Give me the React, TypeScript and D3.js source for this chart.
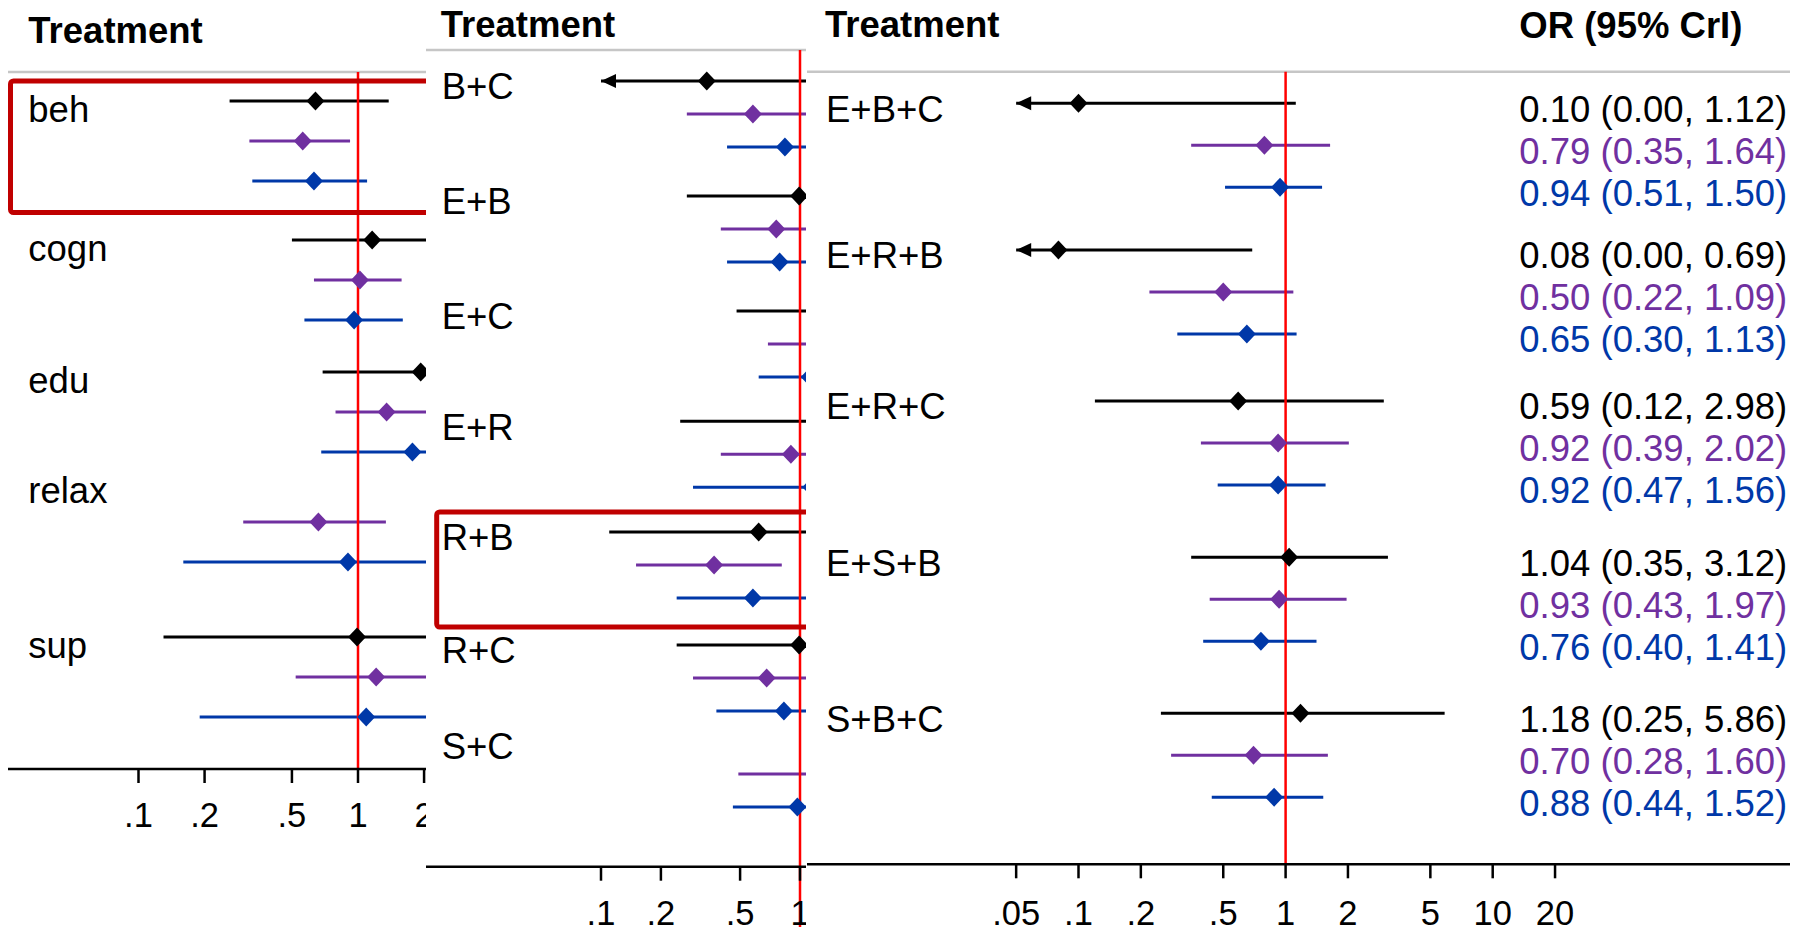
import React from 'react';
import { scaleLog, scaleLinear } from 'd3';

// [estimate, lower, upper] per treatment; null = row not shown
type Ci = [number, number, number] | null;

const seriesColors = ['#000000', '#7030A0', '#0038A8'];

// left panel: single components
const p1Labels = ['beh', 'cogn', 'edu', 'relax', 'sup'];
const p1Black: Ci[] = [[0.64, 0.26, 1.38], [1.16, 0.5, 3.2], [1.93, 0.69, 5.4], null, [0.99, 0.13, 3.4]];
const p1Purple: Ci[] = [[0.56, 0.32, 0.92], [1.02, 0.63, 1.58], [1.35, 0.79, 2.6], [0.66, 0.3, 1.34], [1.21, 0.52, 2.5]];
const p1Blue: Ci[] = [[0.63, 0.33, 1.1], [0.96, 0.57, 1.6], [1.77, 0.68, 4.2], [0.9, 0.16, 2.9], [1.09, 0.19, 3.6]];
const p1Ticks = [0.1, 0.2, 0.5, 1, 2];
const p1TickLabels = ['.1', '.2', '.5', '1', '2'];

// middle panel: pairs
const p2Labels = ['B+C', 'E+B', 'E+C', 'E+R', 'R+B', 'R+C', 'S+C'];
const p2Black: Ci[] = [[0.34, 0, 1.6], [0.99, 0.27, 3], [1.3, 0.48, 3.5], [1.4, 0.25, 6], [0.62, 0.11, 2.5], [0.99, 0.24, 3.2], null];
const p2Purple: Ci[] = [[0.58, 0.27, 1.3], [0.76, 0.4, 1.6], [1.25, 0.69, 2.2], [0.9, 0.4, 1.9], [0.37, 0.15, 0.81], [0.68, 0.29, 1.6], [1.4, 0.49, 3.5]];
const p2Blue: Ci[] = [[0.84, 0.43, 1.5], [0.79, 0.43, 1.4], [1.12, 0.62, 2], [1.14, 0.29, 3.5], [0.58, 0.24, 1.4], [0.83, 0.38, 1.8], [0.97, 0.46, 2.1]];
const p2Ticks = [0.1, 0.2, 0.5, 1];
const p2TickLabels = ['.1', '.2', '.5', '1'];

// right panel: triples, with the printed OR (95% CrI)
const p3Labels = ['E+B+C', 'E+R+B', 'E+R+C', 'E+S+B', 'S+B+C'];
const p3Black: Ci[] = [[0.1, 0, 1.12], [0.08, 0, 0.69], [0.59, 0.12, 2.98], [1.04, 0.35, 3.12], [1.18, 0.25, 5.86]];
const p3Purple: Ci[] = [[0.79, 0.35, 1.64], [0.5, 0.22, 1.09], [0.92, 0.39, 2.02], [0.93, 0.43, 1.97], [0.7, 0.28, 1.6]];
const p3Blue: Ci[] = [[0.94, 0.51, 1.5], [0.65, 0.3, 1.13], [0.92, 0.47, 1.56], [0.76, 0.4, 1.41], [0.88, 0.44, 1.52]];
const p3Ticks = [0.05, 0.1, 0.2, 0.5, 1, 2, 5, 10, 20];
const p3TickLabels = ['.05', '.1', '.2', '.5', '1', '2', '5', '10', '20'];

// row position of each treatment's first line (row units, plots are uneven)
const p1GroupRows = [0, 3.475, 6.775, 9.525, 13.4];
const p2GroupRows = [0, 3.485, 6.97, 10.31, 13.67, 17.09, 20];
const p3GroupRows = [0, 3.49, 7.09, 10.81, 14.52];

const font = '"Liberation Sans", Arial, Helvetica, sans-serif';

interface PanelProps {
  id: string;
  clipX: [number, number];
  x: any;
  y: any;
  clipMin: number;
  labels: string[];
  groupRows: number[];
  series: Ci[][];
  ticks: number[];
  tickLabels: string[];
  headerX: number;
  headerY: number;
  lineY: number;
  lineX: [number, number];
  axisY: number;
  refBottom: number;
  tickLabelY: number;
  labelX: number;
  labelDy: number;
  box?: { x: number; y0: number; y1: number };
  numbersX?: number;
}

function Panel(p: PanelProps) {
  const [cx0, cx1] = p.clipX;
  const x1 = p.x(1);
  const diamond = (cx: number, cy: number) =>
    `M${cx - 9},${cy}L${cx},${cy - 9.5}L${cx + 9},${cy}L${cx},${cy + 9.5}Z`;

  const rows: { key: string; ci: [number, number, number]; cy: number; color: string }[] = [];
  p.series.forEach((s, si) => {
    s.forEach((ci, gi) => {
      if (!ci) return;
      rows.push({ key: `${si}-${gi}`, ci, cy: p.y(p.groupRows[gi] + si), color: seriesColors[si] });
    });
  });

  return (
    <g clipPath={`url(#${p.id})`}>
      <defs>
        <clipPath id={p.id}>
          <rect x={cx0} y={0} width={cx1 - cx0} height={927} />
        </clipPath>
      </defs>
      <rect x={cx0} y={0} width={cx1 - cx0} height={927} fill="#fff" />
      <text x={p.headerX} y={p.headerY} fontFamily={font} fontWeight="bold" fontSize={36.5}>Treatment</text>
      {p.numbersX !== undefined && (
        <text x={p.numbersX} y={38} fontFamily={font} fontWeight="bold" fontSize={36.5}>OR (95% CrI)</text>
      )}
      <line x1={p.lineX[0]} x2={p.lineX[1]} y1={p.lineY} y2={p.lineY} stroke="#c6c6c6" strokeWidth={2.5} />

      {p.labels.map((l, i) => (
        <text key={l} x={p.labelX} y={p.y(p.groupRows[i]) + p.labelDy} fontFamily={font} fontSize={36.5}>{l}</text>
      ))}

      {rows.map(r => {
        const [est, lo, hi] = r.ci;
        const arrow = lo < p.clipMin;
        const xl = arrow ? p.x(p.clipMin) : p.x(lo);
        return (
          <g key={r.key}>
            <line x1={xl} x2={p.x(hi)} y1={r.cy} y2={r.cy} stroke={r.color} strokeWidth={3} />
            {arrow && (
              <path d={`M${xl},${r.cy}L${xl + 15},${r.cy - 7}L${xl + 15},${r.cy + 7}Z`} fill={r.color} />
            )}
          </g>
        );
      })}

      <line x1={x1} x2={x1} y1={p.lineY} y2={p.refBottom} stroke="#ff0000" strokeWidth={2.5} />

      {rows.map(r => (
        <path key={'d' + r.key} d={diamond(p.x(r.ci[0]), r.cy)} fill={r.color} />
      ))}

      {p.numbersX !== undefined && rows.map(r => (
        <text key={'t' + r.key} x={p.numbersX} y={r.cy + 18.4} fontFamily={font} fontSize={36.5} fill={r.color}>
          {`${r.ci[0].toFixed(2)} (${r.ci[1].toFixed(2)}, ${r.ci[2].toFixed(2)})`}
        </text>
      ))}

      {p.box && (
        <rect x={p.box.x} y={p.box.y0} width={cx1 - p.box.x + 20} height={p.box.y1 - p.box.y0}
          fill="none" stroke="#c00000" strokeWidth={5} rx={3} />
      )}

      <line x1={p.lineX[0]} x2={p.lineX[1]} y1={p.axisY} y2={p.axisY} stroke="#000" strokeWidth={2.5} />
      {p.ticks.map((t, i) => (
        <g key={t} transform={`translate(${p.x(t)},${p.axisY})`}>
          <line y1={0} y2={14} stroke="#000" strokeWidth={2.5} />
          <text y={p.tickLabelY - p.axisY} textAnchor="middle" fontFamily={font} fontSize={34.5}>{p.tickLabels[i]}</text>
        </g>
      ))}
    </g>
  );
}

export default function App() {
  const x1 = scaleLog().domain([0.1, 1]).range([138.5, 358]);
  const y1 = scaleLinear().domain([0, 1]).range([101, 141]);
  const x2 = scaleLog().domain([0.1, 1]).range([601, 800]);
  const y2 = scaleLinear().domain([0, 1]).range([81, 114]);
  const x3 = scaleLog().domain([0.1, 1]).range([1078.5, 1285.6]);
  const y3 = scaleLinear().domain([0, 1]).range([103.3, 145.3]);

  return (
    <svg width={1810} height={927} style={{ position: 'absolute', left: 0, top: 0, background: '#fff' }}>
      <Panel id="c1" clipX={[0, 426]} x={x1} y={y1} clipMin={0.05}
        labels={p1Labels} groupRows={p1GroupRows} series={[p1Black, p1Purple, p1Blue]}
        ticks={p1Ticks} tickLabels={p1TickLabels}
        headerX={28.3} headerY={43} lineY={72} lineX={[8, 426]} axisY={769} refBottom={769}
        tickLabelY={827} labelX={28.3} labelDy={20.5}
        box={{ x: 10.5, y0: 81, y1: 212.5 }} />
      <Panel id="c2" clipX={[426, 806]} x={x2} y={y2} clipMin={0.1}
        labels={p2Labels} groupRows={p2GroupRows} series={[p2Black, p2Purple, p2Blue]}
        ticks={p2Ticks} tickLabels={p2TickLabels}
        headerX={440.7} headerY={36.7} lineY={50} lineX={[426, 806]} axisY={866.7} refBottom={927}
        tickLabelY={925} labelX={441.7} labelDy={18.3}
        box={{ x: 436.7, y0: 512, y1: 627 }} />
      <Panel id="c3" clipX={[806, 1810]} x={x3} y={y3} clipMin={0.05}
        labels={p3Labels} groupRows={p3GroupRows} series={[p3Black, p3Purple, p3Blue]}
        ticks={p3Ticks} tickLabels={p3TickLabels}
        headerX={825} headerY={36.7} lineY={71.7} lineX={[807, 1790]} axisY={864.3} refBottom={864.3}
        tickLabelY={925} labelX={826} labelDy={18.4} numbersX={1519.3} />
    </svg>
  );
}
